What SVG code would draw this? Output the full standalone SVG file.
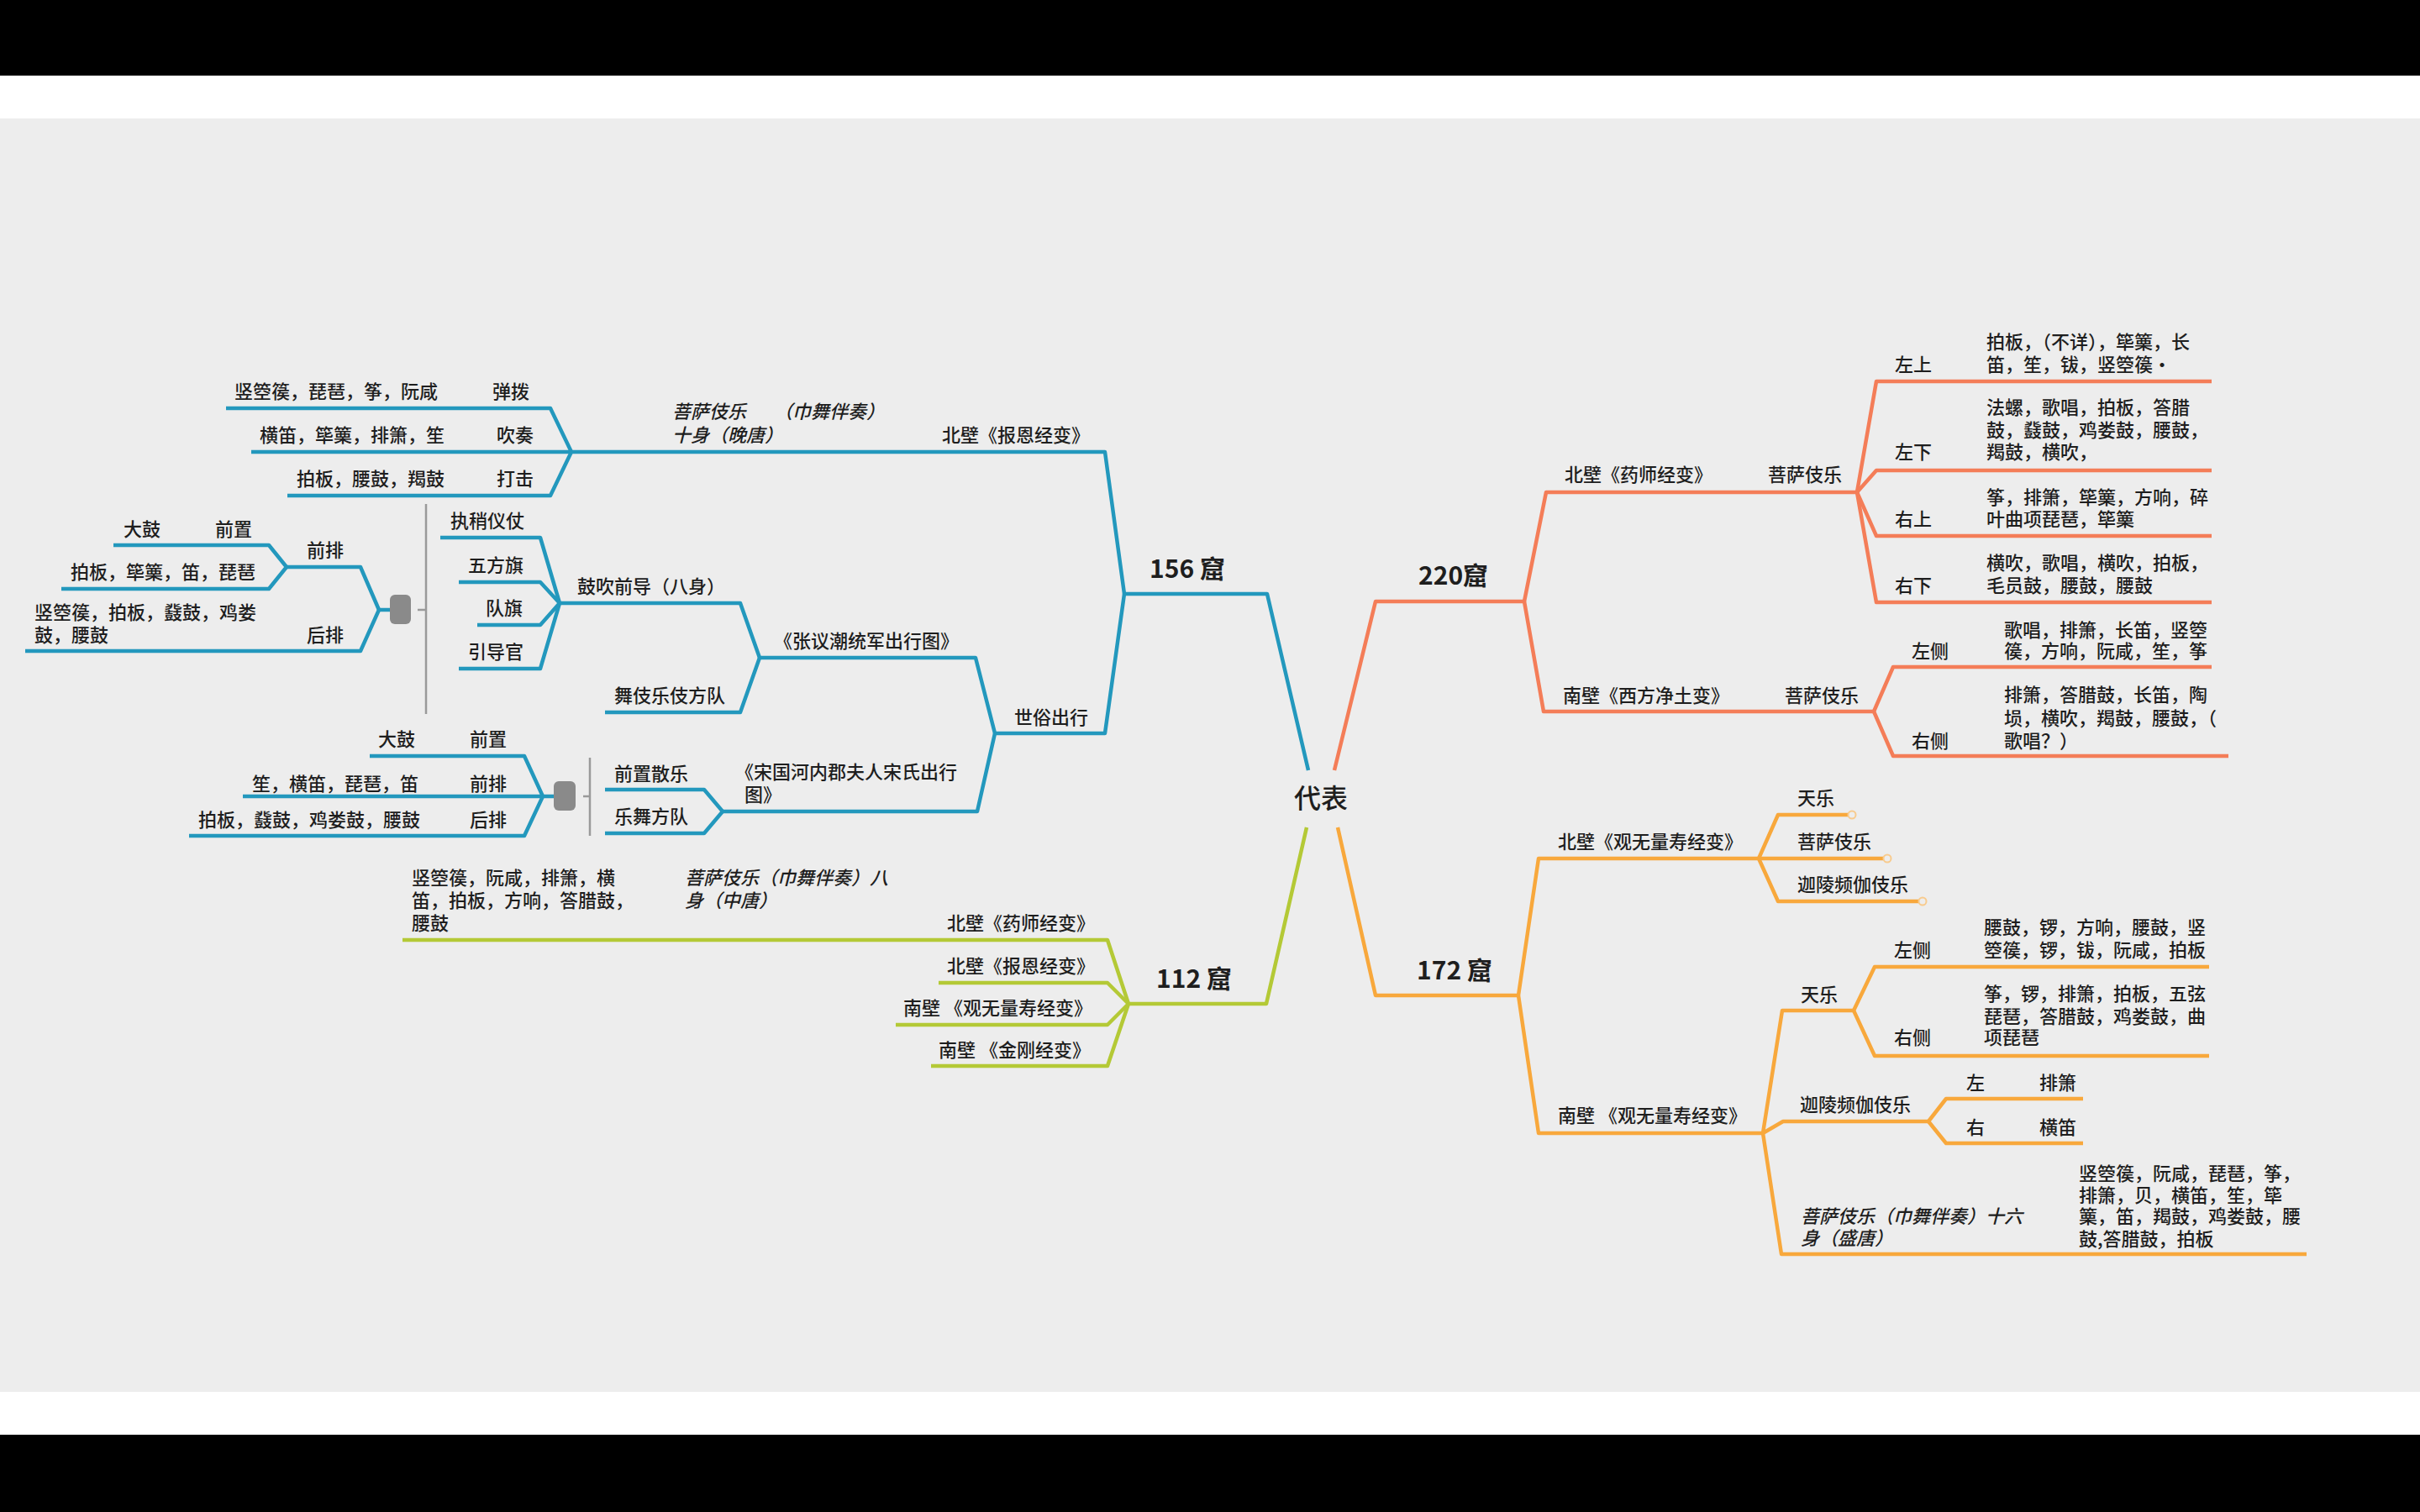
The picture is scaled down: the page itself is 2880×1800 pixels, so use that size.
<svg xmlns="http://www.w3.org/2000/svg" width="2880" height="1800" viewBox="0 0 2880 1800">
<style>
text{font-family:"Noto Sans CJK SC","Noto Sans",sans-serif;font-size:22px;fill:#1e1e1e;font-weight:500}
.i{font-style:italic}
.h{font-size:30px;font-weight:700}
.c{font-size:32px}
polyline{fill:none;stroke-width:4.5;stroke-linejoin:round;stroke-linecap:butt}
.b polyline{stroke:#2398bd}
.r polyline{stroke:#f47d58}
.g polyline{stroke:#b4c936}
.o polyline{stroke:#f8a83c}
.gl{stroke:#9a9a9a;stroke-width:2.5;fill:none}
.gr{fill:#8a8a8a}
.dot{fill:#ededed;stroke:#f8cb8e;stroke-width:2}
</style>
<rect width="2880" height="1800" fill="#000"/>
<rect y="90" width="2880" height="1618" fill="#fff"/>
<rect y="141" width="2880" height="1516" fill="#ededed"/>

<g id="connectors">
<g class="b">
<polyline points="1557,917 1508,707 1338,707"/>
<polyline points="1338,707 1315,538 680,538"/>
<polyline points="680,538 655,486 269,486"/>
<polyline points="680,538 299,538"/>
<polyline points="680,538 655,590 342,590"/>
<polyline points="1338,707 1315,873 1184,873"/>
<polyline points="1184,873 1161,783 904,783"/>
<polyline points="904,783 881,718 666,718"/>
<polyline points="666,718 643,640 524,640"/>
<polyline points="666,718 643,693 546,693"/>
<polyline points="666,718 643,744 568,744"/>
<polyline points="666,718 643,796 546,796"/>
<polyline points="904,783 881,848 720,848"/>
<polyline points="464,726 451,726"/>
<polyline points="451,726 429,675 341,675"/>
<polyline points="341,675 320,649 135,649"/>
<polyline points="341,675 320,701 73,701"/>
<polyline points="451,726 429,775 30,775"/>
<polyline points="1184,873 1163,966 860,966"/>
<polyline points="860,966 838,940 720,940"/>
<polyline points="860,966 838,992 720,992"/>
<polyline points="659,948 646,948"/>
<polyline points="646,948 624,900 440,900"/>
<polyline points="646,948 289,948"/>
<polyline points="646,948 624,995 225,995"/>
</g>
<g class="g">
<polyline points="1555,985 1507,1195 1343,1195"/>
<polyline points="1343,1195 1318,1119 479,1119"/>
<polyline points="1343,1195 1318,1170 1117,1170"/>
<polyline points="1343,1195 1318,1220 1066,1220"/>
<polyline points="1343,1195 1318,1269 1108,1269"/>
</g>
<g class="r">
<polyline points="1588,917 1637,716 1814,716"/>
<polyline points="1814,716 1840,586 2210,586"/>
<polyline points="2210,586 2233,454 2632,454"/>
<polyline points="2210,586 2233,560 2632,560"/>
<polyline points="2210,586 2233,638 2632,638"/>
<polyline points="2210,586 2233,717 2632,717"/>
<polyline points="1814,716 1837,847 2230,847"/>
<polyline points="2230,847 2253,794 2632,794"/>
<polyline points="2230,847 2253,900 2652,900"/>
</g>
<g class="o">
<polyline points="1592,985 1637,1185 1807,1185"/>
<polyline points="1807,1185 1831,1022 2093,1022"/>
<polyline points="2093,1022 2116,970 2200,970"/>
<polyline points="2093,1022 2242,1022"/>
<polyline points="2093,1022 2116,1073 2284,1073"/>
<polyline points="1807,1185 1831,1349 2098,1349"/>
<polyline points="2098,1349 2121,1203 2206,1203"/>
<polyline points="2206,1203 2231,1151 2629,1151"/>
<polyline points="2206,1203 2231,1257 2629,1257"/>
<polyline points="2098,1349 2122,1335 2295,1335"/>
<polyline points="2295,1335 2316,1308 2479,1308"/>
<polyline points="2295,1335 2316,1361 2479,1361"/>
<polyline points="2098,1349 2120,1493 2745,1493"/>
</g>
</g>

<g id="summary1"><line class="gl" x1="507" y1="600" x2="507" y2="850"/><line class="gl" x1="497" y1="726" x2="507" y2="726"/><rect class="gr" x="464" y="708" width="25" height="35" rx="6"/></g>
<g id="summary2"><line class="gl" x1="702" y1="902" x2="702" y2="995"/><line class="gl" x1="694" y1="948" x2="702" y2="948"/><rect class="gr" x="659" y="930" width="26" height="35" rx="6"/></g>

<g id="root"><text class="c" x="1572" y="962" text-anchor="middle">代表</text></g>

<g id="c156"><text class="h" x="1368" y="688">156 窟</text></g>
<g id="n156-baoen"><text x="1121" y="526">北壁《报恩经变》</text></g>
<g id="n156-pusa"><text class="i" x="800" y="498">菩萨伎乐</text><text class="i" x="921" y="498">（巾舞伴奏）</text><text class="i" x="800" y="526">十身（晚唐）</text></g>
<g id="n156-tanbo"><text x="586" y="474">弹拨</text></g>
<g id="n156-tanbo-i"><text x="279" y="474">竖箜篌，琵琶，筝，阮咸</text></g>
<g id="n156-chuizou"><text x="591" y="526">吹奏</text></g>
<g id="n156-chuizou-i"><text x="309" y="526">横笛，筚篥，排箫，笙</text></g>
<g id="n156-daji"><text x="591" y="578">打击</text></g>
<g id="n156-daji-i"><text x="353" y="578">拍板，腰鼓，羯鼓</text></g>
<g id="n156-shisu"><text x="1207" y="862">世俗出行</text></g>
<g id="n156-zhang"><text x="921" y="771">《张议潮统军出行图》</text></g>
<g id="n156-guchui"><text x="687" y="706">鼓吹前导（八身）</text></g>
<g id="n156-zhishao"><text x="536" y="628">执稍仪仗</text></g>
<g id="n156-wufang"><text x="557" y="681">五方旗</text></g>
<g id="n156-duiqi"><text x="578" y="732">队旗</text></g>
<g id="n156-yindao"><text x="557" y="784">引导官</text></g>
<g id="n156-wuji"><text x="731" y="836">舞伎乐伎方队</text></g>
<g id="n156-qianpai1"><text x="365" y="663">前排</text></g>
<g id="n156-qianzhi1"><text x="256" y="638">前置</text></g>
<g id="n156-dagu1"><text x="147" y="638">大鼓</text></g>
<g id="n156-qp1-i"><text x="84" y="689">拍板，筚篥，笛，琵琶</text></g>
<g id="n156-houpai1"><text x="365" y="764">后排</text></g>
<g id="n156-hp1-i"><text x="41" y="737">竖箜篌，拍板，鼗鼓，鸡娄</text><text x="41" y="764">鼓，腰鼓</text></g>
<g id="n156-song"><text x="875" y="927">《宋国河内郡夫人宋氏出行</text><text x="886" y="954">图》</text></g>
<g id="n156-qianzhisanle"><text x="731" y="929">前置散乐</text></g>
<g id="n156-yuewu"><text x="731" y="980">乐舞方队</text></g>
<g id="n156-qianzhi2"><text x="559" y="888">前置</text></g>
<g id="n156-dagu2"><text x="450" y="888">大鼓</text></g>
<g id="n156-qianpai2"><text x="559" y="941">前排</text></g>
<g id="n156-qp2-i"><text x="300" y="941">笙，横笛，琵琶，笛</text></g>
<g id="n156-houpai2"><text x="559" y="984">后排</text></g>
<g id="n156-hp2-i"><text x="236" y="984">拍板，鼗鼓，鸡娄鼓，腰鼓</text></g>

<g id="c112"><text class="h" x="1376" y="1176">112 窟</text></g>
<g id="n112-yaoshi"><text x="1127" y="1107">北壁《药师经变》</text></g>
<g id="n112-pusa"><text class="i" x="815" y="1053">菩萨伎乐（巾舞伴奏）八</text><text class="i" x="815" y="1080">身（中唐）</text></g>
<g id="n112-pusa-i"><text x="490" y="1053">竖箜篌，阮咸，排箫，横</text><text x="490" y="1080">笛，拍板，方响，答腊鼓，</text><text x="490" y="1107">腰鼓</text></g>
<g id="n112-baoen"><text x="1127" y="1158">北壁《报恩经变》</text></g>
<g id="n112-guan"><text x="1075" y="1208">南壁 《观无量寿经变》</text></g>
<g id="n112-jingang"><text x="1117" y="1258">南壁 《金刚经变》</text></g>

<g id="c220"><text class="h" x="1688" y="696">220窟</text></g>
<g id="n220-yaoshi"><text x="1862" y="573">北壁《药师经变》</text></g>
<g id="n220-pusa1"><text x="2104" y="573">菩萨伎乐</text></g>
<g id="n220-zs"><text x="2255" y="442">左上</text></g>
<g id="n220-zs-i"><text x="2364" y="415">拍板，（不详），筚篥，长</text><text x="2364" y="442">笛，笙，钹，竖箜篌·</text></g>
<g id="n220-zx"><text x="2255" y="546">左下</text></g>
<g id="n220-zx-i"><text x="2364" y="493">法螺，歌唱，拍板，答腊</text><text x="2364" y="520">鼓，鼗鼓，鸡娄鼓，腰鼓，</text><text x="2364" y="546">羯鼓，横吹，</text></g>
<g id="n220-ys"><text x="2255" y="626">右上</text></g>
<g id="n220-ys-i"><text x="2364" y="600">筝，排箫，筚篥，方响，碎</text><text x="2364" y="626">叶曲项琵琶，筚篥</text></g>
<g id="n220-yx"><text x="2255" y="705">右下</text></g>
<g id="n220-yx-i"><text x="2364" y="678">横吹，歌唱，横吹，拍板，</text><text x="2364" y="705">毛员鼓，腰鼓，腰鼓</text></g>
<g id="n220-xifang"><text x="1860" y="836">南壁《西方净土变》</text></g>
<g id="n220-pusa2"><text x="2124" y="836">菩萨伎乐</text></g>
<g id="n220-zc"><text x="2275" y="783">左侧</text></g>
<g id="n220-zc-i"><text x="2385" y="758">歌唱，排箫，长笛，竖箜</text><text x="2385" y="783">篌，方响，阮咸，笙，筝</text></g>
<g id="n220-yc"><text x="2275" y="890">右侧</text></g>
<g id="n220-yc-i"><text x="2385" y="835">排箫，答腊鼓，长笛，陶</text><text x="2385" y="863">埙，横吹，羯鼓，腰鼓，（</text><text x="2385" y="890">歌唱？）</text></g>

<g id="c172"><text class="h" x="1686" y="1166">172 窟</text></g>
<g id="n172-bei"><text x="1854" y="1010">北壁《观无量寿经变》</text></g>
<g id="n172-tianle1"><text x="2139" y="958">天乐</text><circle class="dot" cx="2204" cy="970" r="4.5"/></g>
<g id="n172-pusa1"><text x="2139" y="1010">菩萨伎乐</text><circle class="dot" cx="2246" cy="1022" r="4.5"/></g>
<g id="n172-jialing1"><text x="2139" y="1061">迦陵频伽伎乐</text><circle class="dot" cx="2288" cy="1073" r="4.5"/></g>
<g id="n172-nan"><text x="1854" y="1336">南壁 《观无量寿经变》</text></g>
<g id="n172-tianle2"><text x="2143" y="1192">天乐</text></g>
<g id="n172-zc"><text x="2254" y="1139">左侧</text></g>
<g id="n172-zc-i"><text x="2361" y="1112">腰鼓，锣，方响，腰鼓，竖</text><text x="2361" y="1139">箜篌，锣，钹，阮咸，拍板</text></g>
<g id="n172-yc"><text x="2254" y="1243">右侧</text></g>
<g id="n172-yc-i"><text x="2361" y="1191">筝，锣，排箫，拍板，五弦</text><text x="2361" y="1218">琵琶，答腊鼓，鸡娄鼓，曲</text><text x="2361" y="1243">项琵琶</text></g>
<g id="n172-jialing2"><text x="2142" y="1323">迦陵频伽伎乐</text></g>
<g id="n172-zuo"><text x="2340" y="1297">左</text></g>
<g id="n172-zuo-i"><text x="2427" y="1297">排箫</text></g>
<g id="n172-you"><text x="2340" y="1350">右</text></g>
<g id="n172-you-i"><text x="2427" y="1350">横笛</text></g>
<g id="n172-pusa2"><text class="i" x="2143" y="1456">菩萨伎乐（巾舞伴奏）十六</text><text class="i" x="2143" y="1482">身（盛唐）</text></g>
<g id="n172-pusa2-i"><text x="2474" y="1405">竖箜篌，阮咸，琵琶，筝，</text><text x="2474" y="1431">排箫，贝，横笛，笙，筚</text><text x="2474" y="1456">篥，笛，羯鼓，鸡娄鼓，腰</text><text x="2474" y="1483">鼓,答腊鼓，拍板</text></g>
</svg>
